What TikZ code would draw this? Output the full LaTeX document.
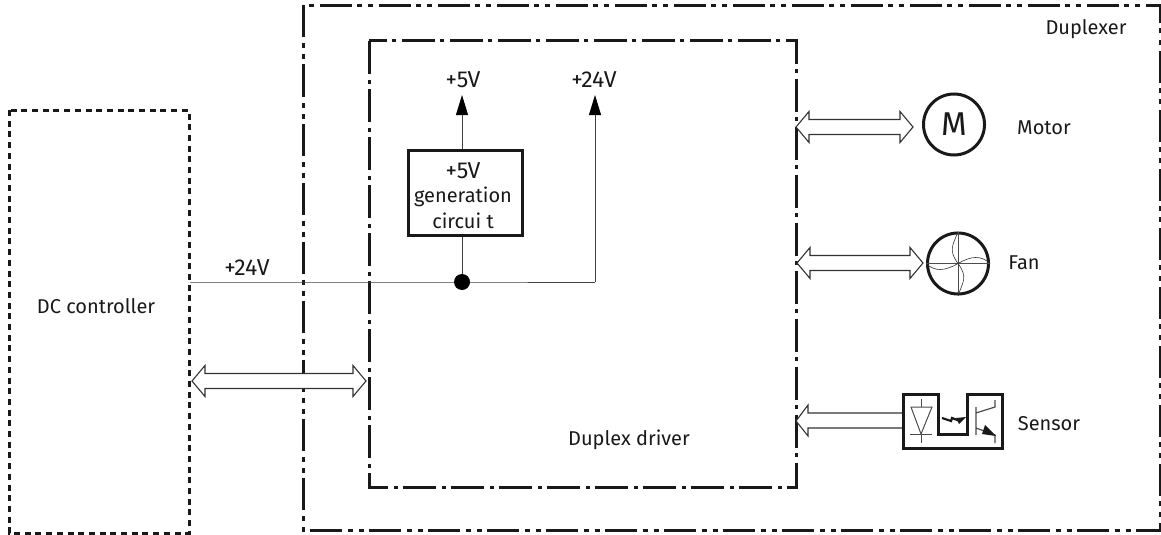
\documentclass[tikz,border=0pt]{standalone}
\usepackage{fontspec}
\setmainfont{Fira Sans}
\usetikzlibrary{arrows.meta,calc}
\tikzset{
  lbl/.style={inner sep=0pt,font=\fontsize{20}{23}\selectfont,text=black!90},
  volt/.style={inner sep=0pt,font=\fontsize{23}{25}\selectfont,text=black!90},
  dashouter/.style={line width=3pt,black!90,dash pattern=on 32pt off 6pt on 5pt off 6pt on 5pt off 5pt},
  dashinner/.style={line width=3pt,black!90,dash pattern=on 33pt off 6pt on 4pt off 5pt},
  dotbox/.style={line width=3pt,black!90,dash pattern=on 6pt off 4.7pt},
  wire/.style={line width=1pt,black!75},
  heavy/.style={line width=3pt,black!90},
  thin sym/.style={line width=1pt,black!70},
  hollow/.style={line width=1.1pt,black!80,fill=white},
  tip/.style={-{Triangle[length=20pt,width=12pt,color=black]}},
}
\newcommand{\dblarrow}[2]{%
 \draw[hollow] (#1) -- ($(#1)+(13,-15.5)$) -- ($(#1)+(13,-7.5)$) -- ($(#2)+(-13,-7.5)$) -- ($(#2)+(-13,-15.5)$) -- (#2)
  -- ($(#2)+(-13,15.5)$) -- ($(#2)+(-13,7.5)$) -- ($(#1)+(13,7.5)$) -- ($(#1)+(13,15.5)$) -- cycle;}
\begin{document}
\begin{tikzpicture}[x=1pt,y=-1pt]
\useasboundingbox (0,0) rectangle (1161,535);
\draw[dotbox] (9,110) rectangle (189,533);
\draw[dashouter] (303,5.5) rectangle (1160,530);
\draw[dashinner] (369,41) rectangle (796,487);
\node[lbl] (dc) at (96,306) {DC controller};
\node[lbl] (dup) at (1086,29) {Duplexer};
\node[lbl] (drv) at (629,440) {Duplex driver};
\node[volt] (v5) at (463,80) {+5V};
\node[volt] (v24) at (594,80) {+24V};
\node[volt] (v24b) at (247,268) {+24V};
\node[lbl] (mot) at (1044,128) {Motor};
\node[lbl] (fan) at (1024,263) {Fan};
\node[lbl] (sen) at (1049,424) {Sensor};
\node[draw,line width=3pt,black!90,fill=white,minimum width=114pt,minimum height=85pt,inner sep=0pt] (gen) at (465,192.5) {};
\node[volt] (gen5) at (463,171) {+5V};
\node[lbl] (gen1) at (463,197) {generation};
\node[lbl] (gen2) at (463,221) {circui t};
\coordinate (dcr) at (190,282);
\coordinate (jn) at (462,282);
\coordinate (c24) at (595,282);
\coordinate (t5) at (462,95);
\coordinate (t24) at (595,95);
\draw[wire] (dcr) -- (jn) -- (c24);
\draw[wire,tip] (c24) -- (t24);
\draw[wire,tip] (gen.north -| jn) -- (t5);
\draw[wire] (gen.south -| jn) -- (jn);
\fill[black] (jn) circle (8);
\node[circle,draw,line width=3pt,black!90,minimum size=61pt,inner sep=0pt,text=black!90,font=\fontsize{33}{36}\selectfont] (m) at (954,124.5) {M};
\node[circle,draw,line width=3pt,black!90,minimum size=61pt,inner sep=0pt] (f) at (958,263.5) {};
\draw[thin sym] (f.north) -- (f.south) (f.west) -- (f.east);
\draw[line width=0.6pt,black!80] (f.center) .. controls (948,250) and (953,245) .. (f.north)
  (f.center) .. controls (968,277) and (963,282) .. (f.south)
  (f.center) .. controls (945,271) and (935,272) .. (f.west)
  (f.center) .. controls (971,256) and (981,255) .. (f.east);
\coordinate (a1l) at (192,381); \coordinate (a1r) at (366,381);
\coordinate (a2l) at (796,127); \coordinate (a2r) at (913,127);
\coordinate (a3l) at (797,263); \coordinate (a3r) at (923,263);
\dblarrow{a1l}{a1r}
\dblarrow{a2l}{a2r}
\dblarrow{a3l}{a3r}
\coordinate (a4l) at (796,421); \coordinate (a4r) at (903,421);
\draw[hollow] (a4r |- 0,413) -- (808,413) -- (808,405) -- (a4l) -- (808,436) -- (808,428) -- (a4r |- 0,428);
\draw[heavy] (903,394) -- (938,394) -- (938,434) -- (967,434) -- (967,394) -- (1002,394) -- (1002,448) -- (903,448) -- cycle;
\draw[thin sym] (921,399) -- (921,407) (921,434) -- (921,443) (910,434) -- (932,434);
\draw[thin sym] (911,407) -- (932,407) -- (921,434) -- cycle;
\draw[line width=2.2pt,black!90] (942,418) -- (951,421) -- (952,418) -- (960,421);
\fill[black!90] (966,417) -- (956,418) -- (959,424) -- cycle;
\draw[line width=1.2pt,black!70] (976,407) -- (976,435) (976,413) -- (995,407) -- (995,400) (976,428) -- (995,435) -- (995,443);
\fill[black!90] (996,436) -- (982,434) -- (985,425) -- cycle;
\end{tikzpicture}
\end{document}
